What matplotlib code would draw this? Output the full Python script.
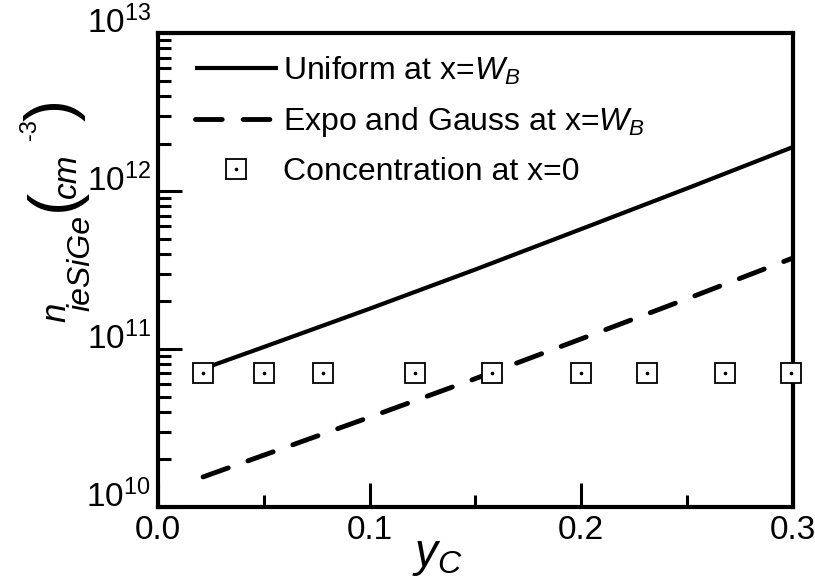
import matplotlib
matplotlib.use("Agg")
import matplotlib.pyplot as plt
from matplotlib.legend_handler import HandlerTuple
from matplotlib.transforms import ScaledTranslation

plt.rcParams['font.family'] = ['Liberation Sans', 'DejaVu Sans']
plt.rcParams['mathtext.fontset'] = 'custom'
plt.rcParams['mathtext.rm'] = 'Liberation Sans'
plt.rcParams['mathtext.it'] = 'Liberation Sans:italic'
plt.rcParams['mathtext.bf'] = 'Liberation Sans:bold'

# Data
yc_uniform = [0.0213, 0.05, 0.1, 0.15, 0.2, 0.25, 0.3]
n_uniform = [7.5e10, 1.03e11, 1.80e11, 3.19e11, 5.75e11, 1.04e12, 1.9e12]

yc_expo = [0.0213, 0.1, 0.15, 0.2, 0.25, 0.3]
n_expo = [1.55e10, 3.7e10, 6.5e10, 1.16e11, 2.08e11, 3.77e11]

yc_conc = [0.0213, 0.0503, 0.0779, 0.1212, 0.158, 0.200, 0.231, 0.268, 0.299]
n_conc = [7e10] * len(yc_conc)

x_ticks = [0.0, 0.1, 0.2, 0.3]
x_ticklabels = ['0.0', '0.1', '0.2', '0.3']
y_ticks = [1e10, 1e11, 1e12, 1e13]
y_ticklabels = [r'$10^{10}$', r'$10^{11}$', r'$10^{12}$', r'$10^{13}$']

W, H = 815, 580
fig = plt.figure(figsize=(W / 100, H / 100), dpi=100)
ax = fig.add_axes([0.1939, 0.1259, 0.779, 0.817])

l1, = ax.plot(yc_uniform, n_uniform, color='black', lw=3.0, solid_capstyle='butt', zorder=2)
l2, = ax.plot(yc_expo, n_expo, color='black', lw=3.5, dashes=(5.5, 4.3), dash_capstyle='round', zorder=2)
sq, = ax.plot(yc_conc, n_conc, linestyle='none', marker='s', markersize=15,
              markerfacecolor='white', markeredgecolor='black', markeredgewidth=1.3, zorder=3, clip_on=False)
dt, = ax.plot(yc_conc, n_conc, linestyle='none', marker='o', markersize=1.6,
              color='black', zorder=4, clip_on=False)

ax.set_yscale('log')
ax.set_xlim(0, 0.3)
ax.set_ylim(1e10, 1e13)
ax.set_xticks(x_ticks)
ax.set_xticklabels(x_ticklabels)
ax.set_xticks([0.05, 0.15, 0.25], minor=True)
ax.set_yticks(y_ticks)
ax.set_yticklabels(y_ticklabels)

for s in ax.spines.values():
    s.set_linewidth(3.0)

ax.tick_params(axis='both', which='major', direction='in', length=17, width=2.2,
               labelsize=24, top=False, right=False)
ax.tick_params(axis='both', which='minor', direction='in', length=9, width=2.2,
               top=False, right=False)
ax.tick_params(axis='x', which='major', pad=6)
ax.tick_params(axis='y', which='major', pad=5)

offset = ScaledTranslation(0, 14 / 100, fig.dpi_scale_trans)
for lab in ax.get_yticklabels():
    lab.set_transform(lab.get_transform() + offset)

ax.set_xlabel(r'$y_C$', fontsize=33)
ax.xaxis.set_label_coords(0.44, -0.058)

# y-axis label composed of pieces: n_ieSiGe (cm^-3)
def vtext(xp, yp, s, size, italic=False):
    fig.text(xp / W, 1 - yp / H, s, rotation=90, ha='center', va='center',
             fontsize=size, style='italic' if italic else 'normal')

vtext(56, 312, 'n', 25, italic=True)
vtext(81, 263, 'ieSiGe', 23, italic=True)
vtext(55, 200, '(', 48)
vtext(67, 176, 'cm', 24, italic=True)
vtext(30, 130, '-3', 17)
vtext(55, 110, ')', 48)

leg = ax.legend([l1, l2, (sq, dt)],
                [r'Uniform at x=$W_B$', r'Expo and Gauss at x=$W_B$', 'Concentration at x=0'],
                handler_map={tuple: HandlerTuple(ndivide=1, pad=0)},
                loc='upper left', bbox_to_anchor=(0.058, 0.955), frameon=False,
                fontsize=23, handlelength=2.6, handletextpad=0.15, labelspacing=0.57,
                borderpad=0, borderaxespad=0)

fig.savefig('out.png', dpi=100)
